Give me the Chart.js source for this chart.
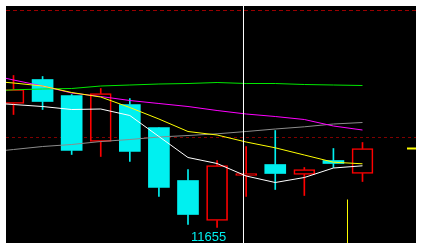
<!DOCTYPE html>
<html>
<head>
<meta charset="utf-8">
<script src="https://cdn.jsdelivr.net/npm/chart.js@4/dist/chart.umd.min.js"></script>
<style>
  html, body { margin: 0; padding: 0; background: #ffffff; }
  #wrap { width: 421px; height: 249px; }
</style>
</head>
<body>
<div id="wrap"><canvas id="c" width="421" height="249"></canvas></div>
<script>
// ---- Data ----
const candleIndex = [0, 1, 2, 3, 4, 5, 6, 7, 8, 9, 10, 11, 12];
const opens  = [11779, 11803, 11787, 11741, 11778, 11755, 11702, 11662, 11707, 11718, 11708, 11722, 11709];
const highs  = [11807, 11806, 11788, 11794, 11784, 11755, 11713, 11722, 11736, 11752, 11715, 11734, 11740];
const lows   = [11768, 11773, 11728, 11726, 11721, 11686, 11658, 11655, 11686, 11693, 11687, 11715, 11701];
const closes = [11793, 11781, 11732, 11789, 11731, 11695, 11668, 11717, 11709, 11709, 11713, 11719, 11734];

const maIndex   = [-1, 0, 1, 2, 3, 4, 5, 6, 7, 8, 9, 10, 11, 12];
const maGreen   = [11791, 11792.7, 11793.5, 11794, 11796.5, 11797.5, 11798.5, 11799, 11800, 11799, 11799, 11798, 11797.5, 11797];
const maMagenta = [11809, 11802.5, 11796.5, 11789.5, 11786, 11782, 11779, 11776, 11772, 11768.5, 11766, 11763, 11756.5, 11752.5];
const maYellow  = [11802, 11799.5, 11796.5, 11790, 11785.5, 11775, 11763.5, 11751, 11747.5, 11740.5, 11734.7, 11727.5, 11720.3, 11718.7];
const maWhite   = [11780, 11778, 11776, 11773, 11773.5, 11767, 11746, 11725, 11719, 11706.5, 11700, 11705, 11714.5, 11716.7];
const maGray    = [11730, 11733, 11736, 11738, 11741, 11743, 11745.5, 11747, 11748.7, 11751, 11753.5, 11755.7, 11758.5, 11760];

const refLevels = [11872, 11745];        // dashed dark-red horizontal levels
const crosshairX = 7.908;                // vertical white cursor position (in candle index units)
const yellowMarkX = 11.484;              // yellow vertical marker
const yellowMarkTop = 11683;
const lastCloseStart = 13.53;            // short yellow last-price marker start

const yMin = 11639.5, yMax = 11876.5;
const xMin = -0.2579, xMax = 13.8397;

// ---- derived datasets ----
const UP = '#ff0000', DOWN = '#00f0f0';
const isUp = opens.map((o, i) => closes[i] >= o);
const colorOf = candleIndex.map((_, i) => isUp[i] ? UP : DOWN);
const upperWick = candleIndex.map((x, i) => ({ x, y: [Math.max(opens[i], closes[i]), highs[i]] }));
const lowerWick = candleIndex.map((x, i) => ({ x, y: [lows[i], Math.min(opens[i], closes[i])] }));
const bodies = candleIndex.map((x, i) => ({ x, y: [Math.min(opens[i], closes[i]), Math.max(opens[i], closes[i])] }));
const series = arr => maIndex.map((x, i) => ({ x, y: arr[i] }));
const lowLabel = Math.min(...lows);
const lowIdx = lows.indexOf(lowLabel);

const lineBase = { type: 'line', borderWidth: 1, pointRadius: 0, tension: 0, fill: false, clip: 0 };

const bgPlugin = {
  id: 'bg',
  beforeDraw(chart) {
    const { ctx, chartArea: a } = chart;
    ctx.save();
    ctx.fillStyle = '#000000';
    ctx.fillRect(a.left, a.top, a.right - a.left, a.bottom - a.top);
    ctx.restore();
  }
};
const labelPlugin = {
  id: 'lowLabel',
  afterDatasetsDraw(chart) {
    const { ctx, scales } = chart;
    const x = scales.x.getPixelForValue(candleIndex[lowIdx]) - 8.5;
    const y = scales.y.getPixelForValue(lowLabel) + 3.5;
    ctx.save();
    ctx.font = '13px "Liberation Sans", Arial, sans-serif';
    ctx.fillStyle = '#00f0f0';
    ctx.textAlign = 'center';
    ctx.textBaseline = 'top';
    ctx.fillText(String(lowLabel), x, y);
    ctx.restore();
  }
};

new Chart(document.getElementById('c'), {
  type: 'line',
  data: {
    datasets: [
      Object.assign({}, lineBase, { order: 1, borderColor: '#ffffff',
        data: [{ x: crosshairX, y: yMin }, { x: crosshairX, y: yMax }] }),
      Object.assign({}, lineBase, { order: 2, borderColor: '#ffff00',
        data: [{ x: yellowMarkX, y: yMin }, { x: yellowMarkX, y: yellowMarkTop }] }),
      Object.assign({}, lineBase, { order: 2, borderColor: '#ffff00', borderWidth: 2,
        data: [{ x: lastCloseStart, y: closes[closes.length - 1] }, { x: xMax, y: closes[closes.length - 1] }] }),
      Object.assign({}, lineBase, { order: 10, borderColor: '#ffffff', data: series(maWhite) }),
      Object.assign({}, lineBase, { order: 11, borderColor: '#ffff00', data: series(maYellow) }),
      Object.assign({}, lineBase, { order: 12, borderColor: '#ff00ff', data: series(maMagenta) }),
      Object.assign({}, lineBase, { order: 13, borderColor: '#00e800', data: series(maGreen) }),
      Object.assign({}, lineBase, { order: 14, borderColor: '#8c8c8c', data: series(maGray) }),
      { type: 'bar', order: 20, grouped: false, barThickness: 21, clip: 0,
        data: bodies,
        backgroundColor: candleIndex.map(i => isUp[i] ? 'rgba(0,0,0,0)' : DOWN),
        borderColor: colorOf, borderWidth: candleIndex.map(i => isUp[i] ? 1 : 0), borderSkipped: false },
      { type: 'bar', order: 21, grouped: false, barThickness: 1, clip: 0,
        data: upperWick, backgroundColor: colorOf, borderWidth: 0 },
      { type: 'bar', order: 21, grouped: false, barThickness: 1, clip: 0,
        data: lowerWick, backgroundColor: colorOf, borderWidth: 0 },
      Object.assign({}, lineBase, { order: 30, borderColor: '#9a0000', borderDash: [4, 3],
        data: [{ x: xMin, y: refLevels[0] }, { x: xMax, y: refLevels[0] }] }),
      Object.assign({}, lineBase, { order: 30, borderColor: '#800000', borderDash: [3, 3],
        data: [{ x: xMin, y: refLevels[1] }, { x: xMax, y: refLevels[1] }] })
    ]
  },
  options: {
    responsive: false,
    devicePixelRatio: 1,
    animation: false,
    events: [],
    layout: { padding: { left: 6, right: 5, top: 6, bottom: 6 } },
    plugins: { legend: { display: false }, tooltip: { enabled: false } },
    scales: {
      x: { type: 'linear', min: xMin, max: xMax, offset: false, display: false },
      y: { type: 'linear', min: yMin, max: yMax, display: false }
    }
  },
  plugins: [bgPlugin, labelPlugin]
});
</script>
</body>
</html>
